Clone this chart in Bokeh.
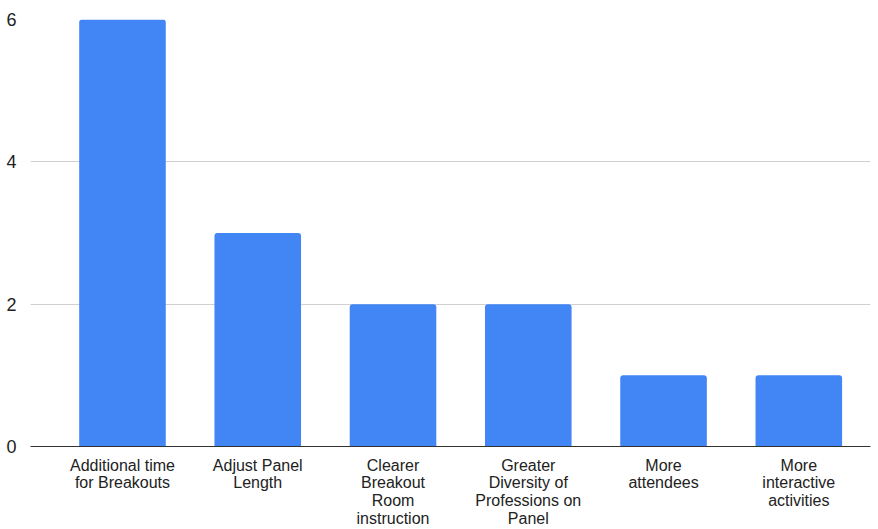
from bokeh.plotting import figure
from bokeh.models import FixedTicker, Range1d, ColumnDataSource
from bokeh.embed import file_html
from bokeh.resources import INLINE

categories = [
    "Additional time\nfor Breakouts",
    "Adjust Panel\nLength",
    "Clearer\nBreakout\nRoom\ninstruction",
    "Greater\nDiversity of\nProfessions on\nPanel",
    "More\nattendees",
    "More\ninteractive\nactivities",
]
counts = [6, 3, 2, 2, 1, 1]
y_ticks = [0, 2, 4, 6]

positions = list(range(len(categories)))
source = ColumnDataSource(data=dict(x=positions, top=counts))

p = figure(
    frame_width=840, frame_height=427,
    x_range=Range1d(-0.68, 5.53), y_range=Range1d(0, 6),
    output_backend="svg", toolbar_location=None,
    min_border_left=30, min_border_right=8, min_border_top=19, min_border_bottom=0,
)
p.outline_line_color = None
p.background_fill_color = "white"
p.border_fill_color = "white"

p.vbar(x="x", top="top", bottom=0, width=0.64, source=source,
       fill_color="#4285F4", line_color=None, border_radius=(3, 3, 0, 0))

# y axis: labels only, light grid lines
p.yaxis.ticker = FixedTicker(ticks=y_ticks)
p.yaxis.axis_line_color = None
p.yaxis.major_tick_line_color = None
p.yaxis.minor_tick_line_color = None
p.yaxis.major_label_text_font = "Liberation Sans"
p.yaxis.major_label_text_font_size = "18px"
p.yaxis.major_label_text_color = "#222222"
p.yaxis.major_label_standoff = 8
p.ygrid.grid_line_color = "#d0d0d0"
p.ygrid.grid_line_width = 1

# x axis: baseline plus multi-line category labels
p.xaxis.ticker = FixedTicker(ticks=positions)
p.xaxis.major_label_overrides = {i: c for i, c in zip(positions, categories)}
p.xaxis.axis_line_color = "#333333"
p.xaxis.axis_line_width = 1
p.xaxis.major_tick_line_color = None
p.xaxis.minor_tick_line_color = None
p.xaxis.major_label_text_font = "Liberation Sans"
p.xaxis.major_label_text_font_size = "16px"
p.xaxis.major_label_text_color = "#222222"
p.xaxis.major_label_standoff = 4
p.xaxis.major_label_text_line_height = 1.04
p.xgrid.grid_line_color = None

open("out.html", "w").write(file_html(p, INLINE))
